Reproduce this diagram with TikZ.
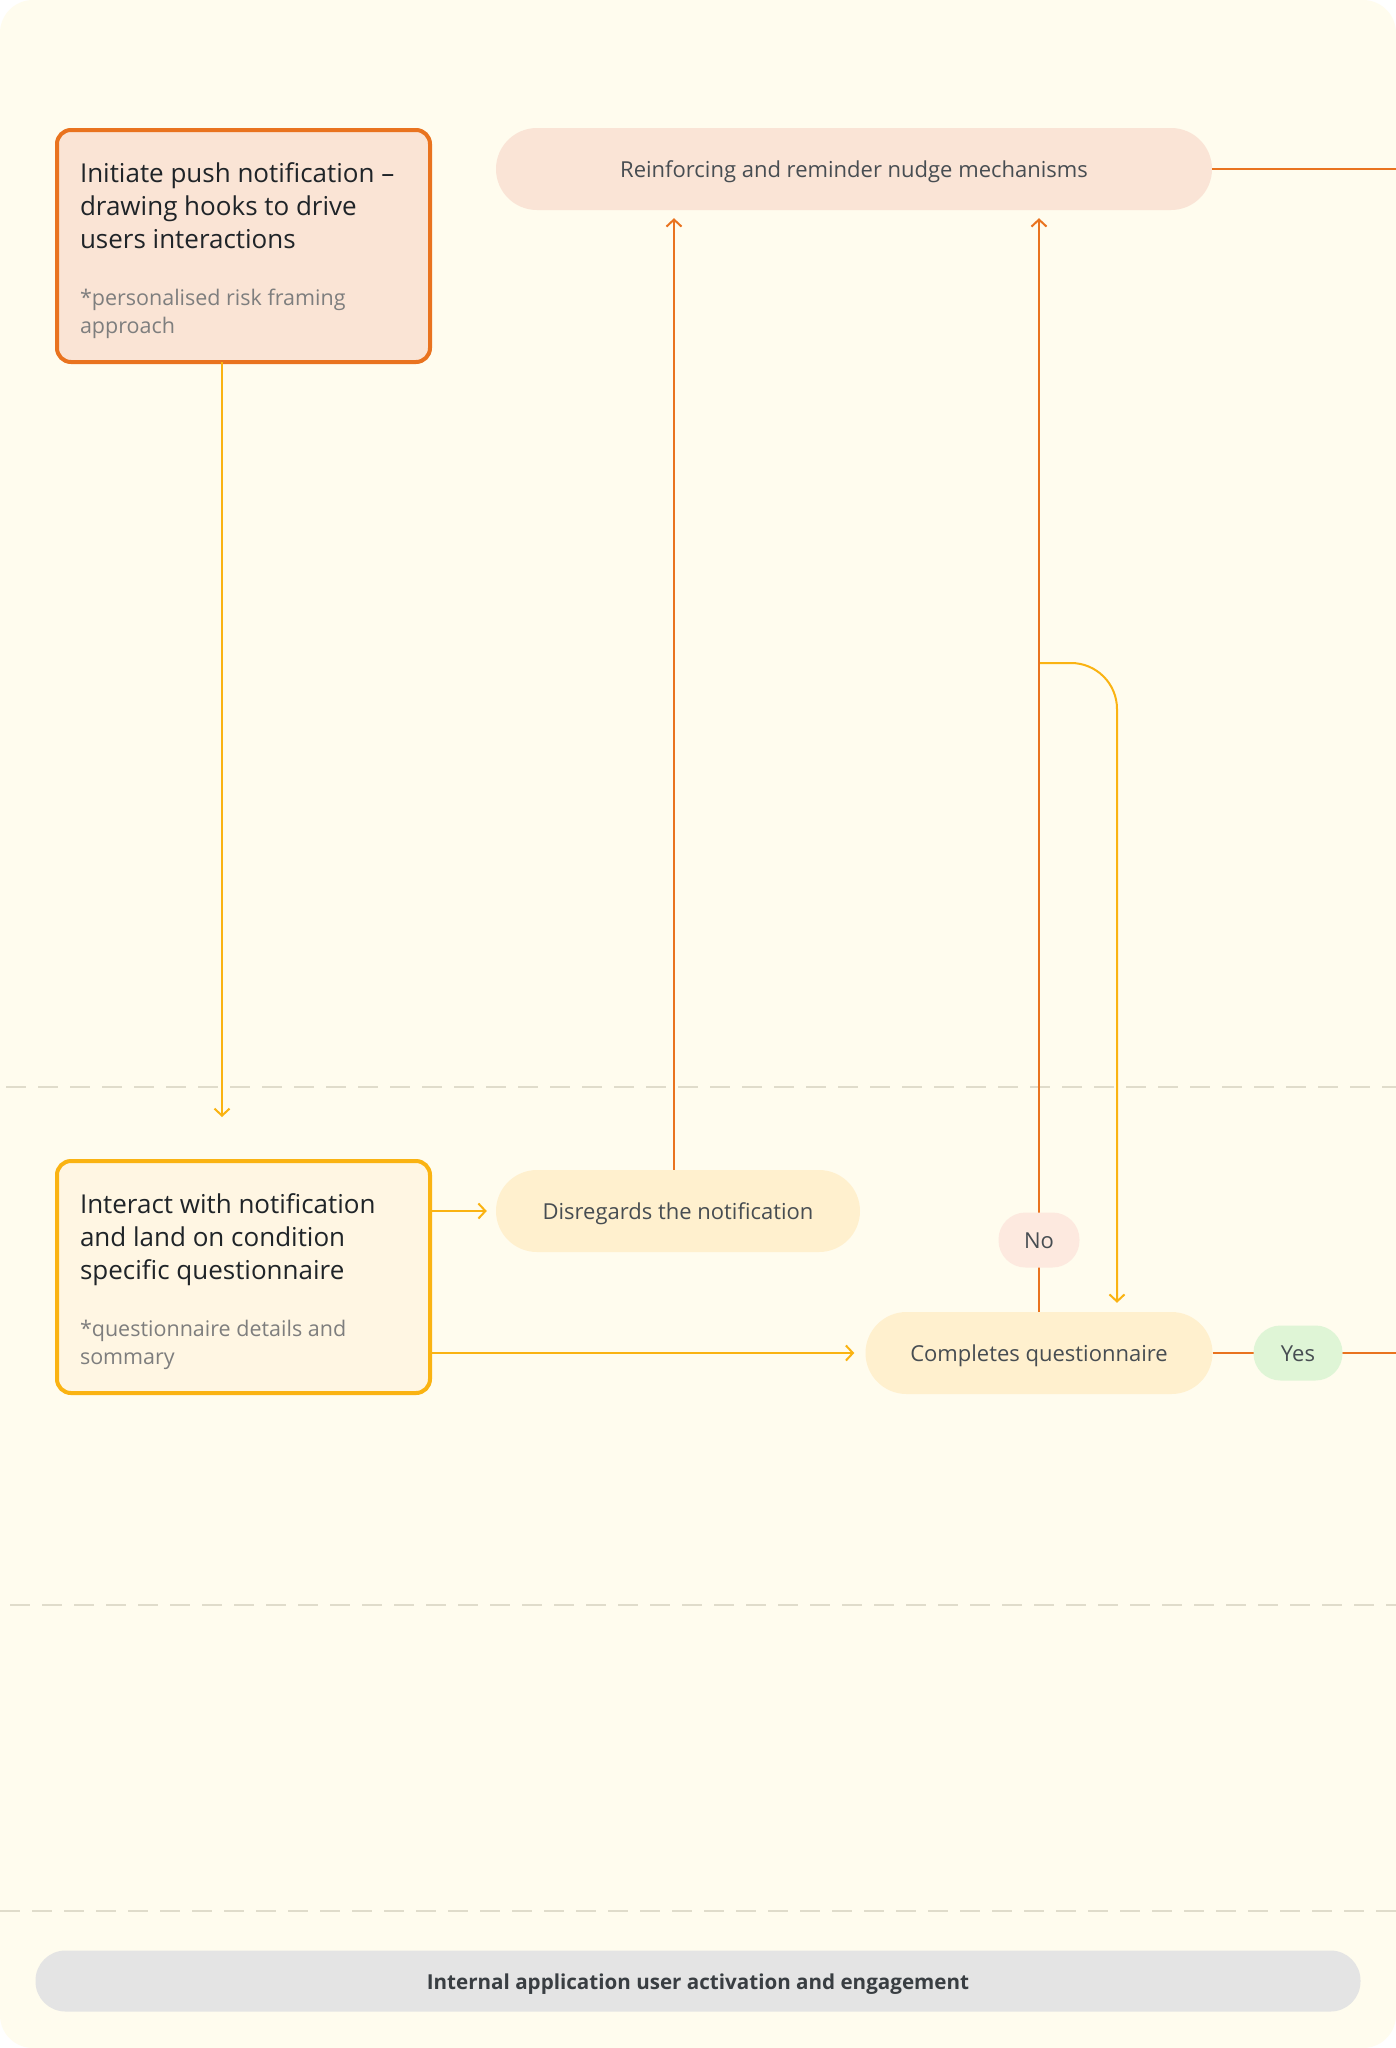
\documentclass[tikz,border=0pt]{standalone}
\usepackage{fontspec}
\setmainfont{Open Sans}
\usetikzlibrary{arrows.meta}
\definecolor{cream}{HTML}{FFFCEE}
\definecolor{orangeC}{HTML}{E9731F}
\definecolor{amberC}{HTML}{FAB312}
\definecolor{boxAfill}{HTML}{FAE4D5}
\definecolor{boxBfill}{HTML}{FFF6E3}
\definecolor{pillAmber}{HTML}{FFF0CE}
\definecolor{pillOrange}{HTML}{FAE4D6}
\definecolor{noFill}{HTML}{FDE9DF}
\definecolor{yesFill}{HTML}{DFF5D6}
\definecolor{grayPill}{HTML}{E4E4E4}
\definecolor{dashC}{HTML}{E0DCCB}
\definecolor{textDark}{HTML}{1F2428}
\definecolor{nodeText}{HTML}{474D52}
\definecolor{subGray}{HTML}{7E7E7E}
\newcommand{\ttlfont}{\fontsize{26}{33}\selectfont\color{textDark}}
\newcommand{\subfnt}{\fontsize{21.5}{28}\selectfont\color{subGray}}
\tikzset{
  bigbox/.style={rectangle, rounded corners=14pt, line width=4pt, minimum width=373pt, minimum height=232pt, inner sep=0pt, outer sep=0pt, anchor=north west},
  pill/.style={rectangle, inner sep=0pt, text=nodeText, text height=16pt, text depth=0pt, font=\fontsize{22}{26}\selectfont},
  orgline/.style={draw=orangeC, line width=2pt},
  ambline/.style={draw=amberC, line width=2pt},
  tip/.style={-{Straight Barb[length=7pt,width=15pt,line width=2pt]}},
  sepline/.style={draw=dashC, line width=2pt, dash pattern=on 20pt off 12pt}
}
\begin{document}
\begin{tikzpicture}[x=1pt,y=-1pt]
\useasboundingbox (0,0) rectangle (1396,2048);
\fill[white] (0,0) rectangle (1396,2048);
\fill[cream, rounded corners=33pt] (0,0) rectangle (1396,2048);

% separators
\draw[sepline] (6,1087) -- (1396,1087);
\draw[sepline] (10,1605) -- (1396,1605);
\draw[sepline] (0,1911) -- (1396,1911);

% nodes
\node[bigbox, draw=orangeC, fill=boxAfill] (init) at (57,130)
  {\parbox{327pt}{\vspace*{10pt}\ttlfont Initiate push notification –\\drawing hooks to drive\\users interactions\par\vspace{29pt}\subfnt *personalised risk framing\\approach}};
\node[bigbox, draw=amberC, fill=boxBfill] (interact) at (57,1161)
  {\parbox{327pt}{\vspace*{10pt}\ttlfont Interact with notification\\and land on condition\\specific questionnaire\par\vspace{29pt}\subfnt *questionnaire details and\\sommary}};

\node[pill, fill=pillOrange, minimum width=716pt, minimum height=82pt, rounded corners=41pt] (reinf) at (854,169) {Reinforcing and reminder nudge mechanisms};
\node[pill, fill=pillAmber, minimum width=364pt, minimum height=82pt, rounded corners=41pt] (dis) at (678,1211) {Disregards the notification};
\node[pill, fill=pillAmber, minimum width=347pt, minimum height=82pt, rounded corners=41pt] (comp) at (1039,1353) {Completes questionnaire};

\coordinate (tipA) at (222,1117);
\coordinate (disX) at (674,1170);
\coordinate (br) at (1040,663);
\coordinate (bend) at (1117,663);
\coordinate (reEnd) at (1396,169);
\coordinate (yesEnd) at (1396,1353);

% connectors
\draw[ambline, tip] (init.south -| tipA) -- (tipA);
\draw[ambline, tip, shorten >=9pt] (dis.west -| interact.east) -- (dis.west);
\draw[ambline, tip, shorten >=11pt] (comp.west -| interact.east) -- (comp.west);
\draw[orgline, tip, shorten >=8pt] (dis.north -| disX) -- (disX |- reinf.south);
\draw[orgline, tip, shorten >=8pt] (comp.north) -- (comp.north |- reinf.south);
\draw[ambline, tip, rounded corners=46pt, shorten >=9pt] (br) -- (bend) -- (bend |- comp.north);
\draw[orgline] (reinf.east) -- (reEnd);
\draw[orgline] (comp.east) -- (yesEnd);

\node[pill, fill=noFill, minimum width=81pt, minimum height=55pt, rounded corners=27pt] (no) at (1039,1240) {No};
\node[pill, fill=yesFill, minimum width=89pt, minimum height=55pt, rounded corners=27pt] (yes) at (1298,1353) {Yes};

\node[pill, fill=grayPill, minimum width=1325pt, minimum height=61pt, rounded corners=30pt, text=nodeText!80!black, font=\fontsize{20.6}{24}\selectfont\bfseries] (bottom) at (698,1981) {Internal application user activation and engagement};
\end{tikzpicture}
\end{document}
